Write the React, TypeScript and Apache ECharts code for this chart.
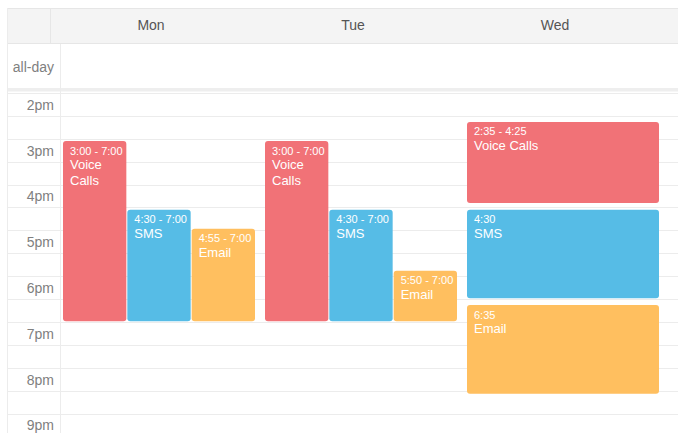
import React, { useEffect, useRef } from "react";
import * as echarts from "echarts";

// ---- data ----
const days = ["Mon", "Tue", "Wed"];
const hourLabels = ["2pm", "3pm", "4pm", "5pm", "6pm", "7pm", "8pm", "9pm", "10pm"];
const categoryNames = ["Voice Calls", "SMS", "Email"];
const categoryColors = ["#f17277", "#56bce6", "#ffbf5f"];

const eventCategory = [0, 1, 2, 0, 1, 2, 0, 1, 2];
const eventDay = [0, 0, 0, 1, 1, 1, 2, 2, 2];
const eventLane = [0, 1, 2, 0, 1, 2, 0, 0, 0];
const eventLanes = [3, 3, 3, 3, 3, 3, 1, 1, 1];
const eventStart = ["3:00", "4:30", "4:55", "3:00", "4:30", "5:50", "2:35", "4:30", "6:35"];
const eventEnd = ["7:00", "7:00", "7:00", "7:00", "7:00", "7:00", "4:25", "6:30", "8:35"];
const eventTimeLabel = [
  "3:00 - 7:00",
  "4:30 - 7:00",
  "4:55 - 7:00",
  "3:00 - 7:00",
  "4:30 - 7:00",
  "5:50 - 7:00",
  "2:35 - 4:25",
  "4:30",
  "6:35",
];

const pm = (s: string) => {
  const [h, m] = s.split(":").map(Number);
  return 12 + h + m / 60;
};

const FONT = "'Liberation Sans', Arial, Helvetica, sans-serif";
const LINE = "#ececec";

export default function App() {
  const ref = useRef<HTMLDivElement>(null);

  useEffect(() => {
    if (!ref.current) return;
    const chart = echarts.init(ref.current, undefined, { renderer: "svg" });

    const data = eventDay.map((d, i) => [
      d,
      pm(eventStart[i]),
      pm(eventEnd[i]),
      eventLane[i],
      eventLanes[i],
      i,
    ]);

    const gridTop = 93.2;
    const gridHeight = 366.4; // 8 hours

    const option: any = {
      animation: false,
      backgroundColor: "#ffffff",
      grid: [
        { left: 7, width: 54, top: gridTop, height: gridHeight, containLabel: false, outerBoundsMode: "none" },
        { left: 61, right: 0, top: gridTop, height: gridHeight, containLabel: false, outerBoundsMode: "none" },
        { left: 50, width: 606, top: 9, height: 35, containLabel: false, outerBoundsMode: "none" },
      ],
      xAxis: [
        { type: "value", gridIndex: 0, min: 0, max: 1, show: false },
        { type: "value", gridIndex: 1, min: 0, max: 617 / 202, show: false },
        {
          type: "category",
          gridIndex: 2,
          data: days,
          position: "top",
          axisLine: { show: false },
          axisTick: { show: false },
          splitLine: { show: false },
          axisLabel: {
            inside: true,
            margin: 9,
            color: "#555555",
            fontSize: 14,
            fontFamily: FONT,
            verticalAlign: "top",
          },
        },
      ],
      yAxis: [
        {
          type: "value",
          gridIndex: 0,
          inverse: true,
          min: 14,
          max: 22,
          interval: 0.5,
          position: "right",
          axisLine: { show: false },
          axisTick: { show: false },
          splitLine: { show: true, lineStyle: { color: LINE, width: 1 } },
          axisLabel: {
            inside: true,
            margin: 7,
            color: "#808080",
            fontSize: 14,
            fontFamily: FONT,
            verticalAlign: "top",
            lineHeight: 23,
            showMinLabel: true,
            showMaxLabel: true,
            formatter: (v: number) =>
              Number.isInteger(v) ? hourLabels[v - 14] ?? "" : "",
          },
        },
        {
          type: "value",
          gridIndex: 1,
          inverse: true,
          min: 14,
          max: 22,
          interval: 0.5,
          axisLine: { show: false },
          axisTick: { show: false },
          axisLabel: { show: false },
          splitLine: { show: true, lineStyle: { color: LINE, width: 1 } },
        },
        { type: "value", gridIndex: 2, show: false },
      ],
      graphic: [
        {
          type: "rect",
          z: -10,
          shape: { x: 7.5, y: 8.5, width: 671, height: 35 },
          style: { fill: "#f4f4f4", stroke: "#e6e6e6", lineWidth: 1 },
        },
        {
          type: "line",
          z: -9,
          shape: { x1: 50.5, y1: 9, x2: 50.5, y2: 43.5 },
          style: { stroke: "#e6e6e6", lineWidth: 1 },
        },
        {
          type: "text",
          x: 54,
          y: 67,
          style: {
            text: "all-day",
            fill: "#808080",
            fontSize: 14,
            fontFamily: FONT,
            align: "right",
            verticalAlign: "middle",
          },
        },
        {
          type: "rect",
          z: -9,
          shape: { x: 7.5, y: 88, width: 671, height: 3.5 },
          style: { fill: "#eeeeee" },
        },
        {
          type: "line",
          z: -9,
          shape: { x1: 60.5, y1: 44, x2: 60.5, y2: 433 },
          style: { stroke: LINE, lineWidth: 1 },
        },
        {
          type: "line",
          z: -9,
          shape: { x1: 7.5, y1: 8.5, x2: 7.5, y2: 433 },
          style: { stroke: LINE, lineWidth: 1 },
        },
      ],
      series: [
        {
          type: "custom",
          xAxisIndex: 1,
          yAxisIndex: 1,
          encode: { x: 0, y: [1, 2] },
          data,
          renderItem: (params: any, api: any) => {
            const day = api.value(0);
            const s = api.value(1);
            const e = api.value(2);
            const lane = api.value(3);
            const lanes = api.value(4);
            const idx = api.value(5);
            const p0 = api.coord([day, s]);
            const p1 = api.coord([day, e]);
            const colW = api.size([1, 0])[0];
            const laneW = (colW - 2 - 7) / lanes;
            const x = p0[0] + 2 + lane * laneW;
            const w = laneW - 1;
            const y = p0[1] + 2;
            const h = p1[1] - p0[1] - 3;
            const color = categoryColors[eventCategory[idx]];
            return {
              type: "group",
              children: [
                {
                  type: "rect",
                  shape: { x, y, width: w, height: h, r: 3 },
                  style: { fill: color },
                },
                {
                  type: "text",
                  x: x + 7,
                  y: y + 9.5,
                  style: {
                    text: eventTimeLabel[idx],
                    fill: "#ffffff",
                    fontSize: 11,
                    fontFamily: FONT,
                    verticalAlign: "middle",
                  },
                },
                {
                  type: "text",
                  x: x + 7,
                  y: y + 15.5,
                  style: {
                    text: categoryNames[eventCategory[idx]],
                    fill: "#ffffff",
                    fontSize: 13,
                    fontFamily: FONT,
                    lineHeight: 16,
                    width: w - 12,
                    overflow: "break",
                    verticalAlign: "top",
                  },
                },
              ],
            };
          },
        },
      ],
    };

    chart.setOption(option);
    return () => chart.dispose();
  }, []);

  return (
    <div
      ref={ref}
      style={{ position: "fixed", left: 0, top: 0, width: 678, height: 433 }}
    />
  );
}
